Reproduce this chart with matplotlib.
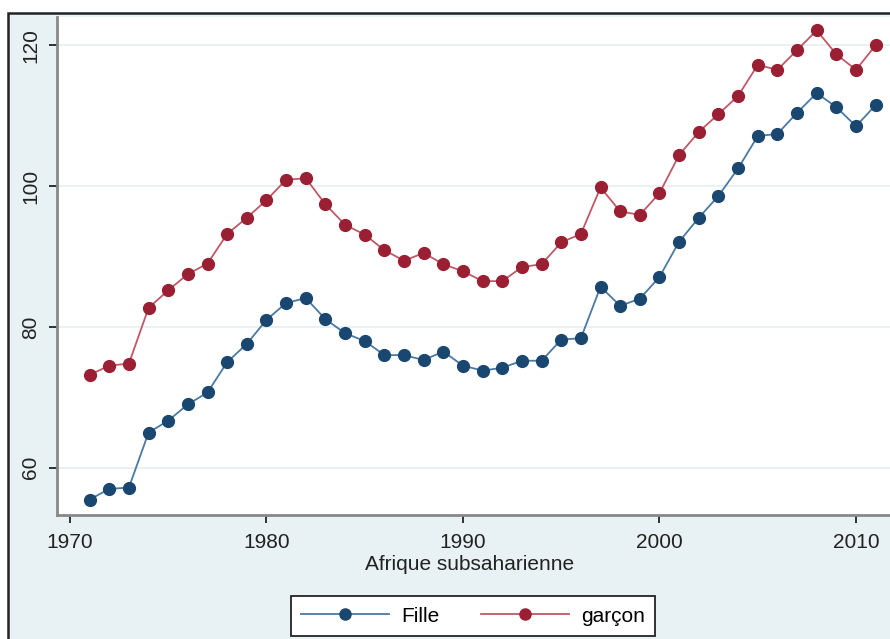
import matplotlib
matplotlib.use("Agg")
import matplotlib.pyplot as plt
from matplotlib.patches import Rectangle

plt.rcParams['font.family'] = ['Liberation Sans', 'DejaVu Sans']

years = list(range(1971, 2012))
fille = [55.5, 57.0, 57.2, 65.0, 66.7, 69.0, 70.7, 75.0, 77.6, 81.0,
         83.4, 84.1, 81.1, 79.1, 78.0, 76.0, 76.0, 75.3, 76.5, 74.5,
         73.8, 74.2, 75.2, 75.2, 78.2, 78.4, 85.7, 83.0, 84.0, 87.1,
         92.1, 95.5, 98.6, 102.5, 107.1, 107.4, 110.4, 113.2, 111.2, 108.5,
         111.5]
garcon = [73.2, 74.5, 74.8, 82.7, 85.2, 87.5, 89.0, 93.2, 95.5, 98.0,
          100.9, 101.1, 97.4, 94.5, 93.1, 90.9, 89.4, 90.5, 88.9, 87.9,
          86.5, 86.5, 88.5, 88.9, 92.0, 93.2, 99.8, 96.4, 95.9, 99.0,
          104.4, 107.7, 110.2, 112.8, 117.2, 116.5, 119.3, 122.1, 118.7, 116.5,
          120.0]
xticks = [1970, 1980, 1990, 2000, 2010]
yticks = [60, 80, 100, 120]
xlabel = "Afrique subsaharienne"
labels = ["Fille", "garçon"]

W, H = 890, 639
fig = plt.figure(figsize=(W / 100, H / 100), dpi=100)
fig.patch.set_facecolor('white')

# outer graph region (light blue) with black frame
frame = Rectangle((8 / W, -0.05), 1.1, 1 - 13 / H + 0.05,
                  transform=fig.transFigure, facecolor='#e8f1f3',
                  edgecolor='#222222', linewidth=1.8, zorder=-10)
fig.patches.append(frame)

ax = fig.add_axes([57 / W, 1 - 515 / H, (890 - 57) / W, (515 - 17) / H])
ax.set_zorder(1)
ax.set_facecolor('white')

blue = '#1a476f'
red = '#9a1f33'
ax.plot(years, fille, '-', color='#4a7aa3', lw=1.3, marker='o', ms=8.5,
        mfc=blue, mec=blue, label=labels[0], zorder=3, clip_on=False)
ax.plot(years, garcon, '-', color='#c05866', lw=1.3, marker='o', ms=8.5,
        mfc=red, mec=red, label=labels[1], zorder=3, clip_on=False)

ax.set_xlim(1969.34, 2011.73)
ax.set_ylim(53.3, 124)
ax.set_xticks(xticks)
ax.set_yticks(yticks)
ax.set_yticklabels([str(v) for v in yticks], rotation=90, va='center')
ax.tick_params(axis='both', labelsize=15, colors='#222222', direction='out',
               width=1.3, length=6)
ax.tick_params(axis='y', pad=6)
ax.tick_params(axis='x', pad=7)
ax.grid(axis='y', color='#e6eff2', lw=1.2)
ax.set_axisbelow(True)
for s in ['top', 'right']:
    ax.spines[s].set_visible(False)
for s in ['left', 'bottom']:
    ax.spines[s].set_color('#888888')
    ax.spines[s].set_linewidth(2)

fig.text(470 / W, 1 - 565 / H, xlabel, ha='center', va='center',
         fontsize=15, color='#222222')

leg = fig.legend(loc='center', bbox_to_anchor=(473 / W, 1 - 616 / H), ncol=2,
                 fontsize=15, frameon=True, fancybox=False,
                 handlelength=4.2, columnspacing=2.0, borderpad=0.5,
                 handletextpad=0.6)
leg.set_zorder(5)
leg.get_frame().set_edgecolor('#222222')
leg.get_frame().set_linewidth(1.3)
leg.get_frame().set_facecolor('white')
leg.get_frame().set_alpha(1)
for h in leg.legend_handles:
    h.set_markersize(8)

fig.savefig('out.png', dpi=100, facecolor='white')
